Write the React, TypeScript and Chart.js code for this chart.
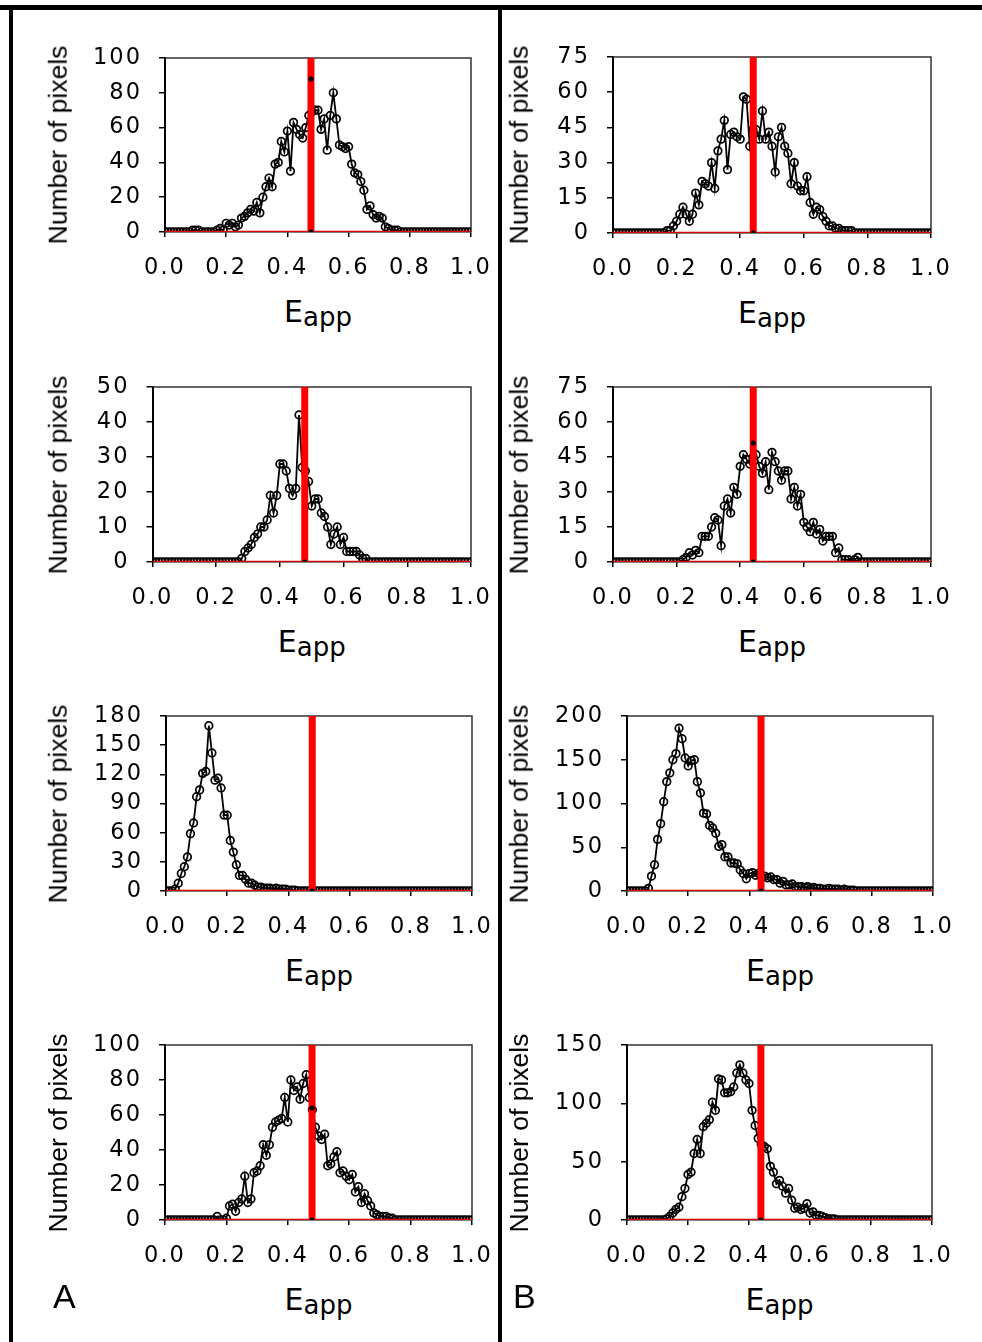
import React, { useEffect, useRef } from "react";
import { Chart, registerables } from "chart.js";

Chart.register(...registerables);

// ---------- DATA ----------
const E = [
  0, 0.01, 0.02, 0.03, 0.04, 0.05, 0.06, 0.07, 0.08, 0.09,
  0.1, 0.11, 0.12, 0.13, 0.14, 0.15, 0.16, 0.17, 0.18, 0.19,
  0.2, 0.21, 0.22, 0.23, 0.24, 0.25, 0.26, 0.27, 0.28, 0.29,
  0.3, 0.31, 0.32, 0.33, 0.34, 0.35, 0.36, 0.37, 0.38, 0.39,
  0.4, 0.41, 0.42, 0.43, 0.44, 0.45, 0.46, 0.47, 0.48, 0.49,
  0.5, 0.51, 0.52, 0.53, 0.54, 0.55, 0.56, 0.57, 0.58, 0.59,
  0.6, 0.61, 0.62, 0.63, 0.64, 0.65, 0.66, 0.67, 0.68, 0.69,
  0.7, 0.71, 0.72, 0.73, 0.74, 0.75, 0.76, 0.77, 0.78, 0.79,
  0.8, 0.81, 0.82, 0.83, 0.84, 0.85, 0.86, 0.87, 0.88, 0.89,
  0.9, 0.91, 0.92, 0.93, 0.94, 0.95, 0.96, 0.97, 0.98, 0.99,
  1.0,
];

const A1 = [
  0, 0, 0, 0, 0, 0, 0, 0, 0, 1,
  1, 1, 0, 0, 0, 0, 0, 1, 2, 1,
  5, 4, 5, 3, 4, 8, 9, 11, 13, 12,
  17, 11, 20, 26, 31, 26, 39, 40, 52, 46,
  58, 35, 63, 59, 56, 54, 60, 67, 69, 70,
  70, 59, 65, 47, 67, 80, 65, 50, 49, 48,
  49, 39, 34, 33, 29, 24, 13, 15, 10, 8,
  9, 8, 3, 2, 1, 1, 1, 0, 0, 0,
  0, 0, 0, 0, 0, 0, 0, 0, 0, 0,
  0, 0, 0, 0, 0, 0, 0, 0, 0, 0,
  0,
];

const B1 = [
  0, 0, 0, 0, 0, 0, 0, 0, 0, 0,
  0, 0, 0, 0, 0, 0, 0, 1, 1, 3,
  5, 8, 11, 8, 5, 8, 17, 12, 22, 21,
  20, 30, 19, 35, 40, 48, 27, 42, 43, 41,
  40, 58, 57, 37, 44, 44, 40, 52, 40, 43,
  37, 26, 41, 45, 37, 34, 21, 30, 20, 18,
  18, 24, 13, 8, 11, 10, 7, 5, 3, 3,
  2, 2, 1, 1, 1, 1, 0, 0, 0, 0,
  0, 0, 0, 0, 0, 0, 0, 0, 0, 0,
  0, 0, 0, 0, 0, 0, 0, 0, 0, 0,
  0,
];

const A2 = [
  0, 0, 0, 0, 0, 0, 0, 0, 0, 0,
  0, 0, 0, 0, 0, 0, 0, 0, 0, 0,
  0, 0, 0, 0, 0, 0, 0, 0, 1, 3,
  4, 5, 7, 8, 10, 10, 12, 19, 14, 19,
  28, 28, 26, 21, 19, 21, 42, 27, 26, 23,
  16, 18, 18, 14, 13, 10, 5, 8, 10, 5,
  7, 3, 3, 3, 3, 2, 1, 1, 0, 0,
  0, 0, 0, 0, 0, 0, 0, 0, 0, 0,
  0, 0, 0, 0, 0, 0, 0, 0, 0, 0,
  0, 0, 0, 0, 0, 0, 0, 0, 0, 0,
  0,
];

const B2 = [
  0, 0, 0, 0, 0, 0, 0, 0, 0, 0,
  0, 0, 0, 0, 0, 0, 0, 0, 0, 0,
  0, 0, 1, 2, 4, 3, 5, 4, 11, 11,
  11, 15, 19, 18, 7, 24, 27, 21, 32, 29,
  41, 46, 44, 42, 45, 46, 41, 38, 43, 31,
  47, 43, 39, 35, 39, 39, 27, 32, 24, 29,
  17, 15, 13, 17, 12, 14, 9, 11, 11, 11,
  4, 6, 1, 1, 1, 0, 1, 2, 0, 0,
  0, 0, 0, 0, 0, 0, 0, 0, 0, 0,
  0, 0, 0, 0, 0, 0, 0, 0, 0, 0,
  0,
];

const A3 = [
  0, 0, 0, 2, 8, 18, 25, 35, 59, 70,
  97, 104, 121, 123, 170, 142, 114, 116, 106, 78,
  78, 52, 40, 27, 16, 16, 12, 8, 8, 6,
  4, 4, 3, 3, 3, 2, 3, 2, 2, 2,
  1, 1, 1, 0, 0, 0, 0, 0, 0, 0,
  0, 0, 0, 0, 0, 0, 0, 0, 0, 0,
  0, 0, 0, 0, 0, 0, 0, 0, 0, 0,
  0, 0, 0, 0, 0, 0, 0, 0, 0, 0,
  0, 0, 0, 0, 0, 0, 0, 0, 0, 0,
  0, 0, 0, 0, 0, 0, 0, 0, 0, 0,
  0,
];

const B3 = [
  0, 0, 0, 0, 0, 0, 0, 3, 17, 30,
  59, 77, 102, 125, 135, 150, 157, 186, 174, 152,
  143, 149, 150, 125, 112, 89, 88, 75, 72, 66,
  51, 53, 39, 39, 32, 32, 31, 24, 20, 14,
  20, 21, 18, 20, 16, 17, 15, 16, 13, 13,
  9, 11, 7, 7, 8, 5, 5, 5, 4, 5,
  3, 4, 3, 3, 2, 2, 3, 2, 2, 2,
  1, 2, 1, 1, 1, 0, 0, 0, 0, 0,
  0, 0, 0, 0, 0, 0, 0, 0, 0, 0,
  0, 0, 0, 0, 0, 0, 0, 0, 0, 0,
  0,
];

const A4 = [
  0, 0, 0, 0, 0, 0, 0, 0, 0, 0,
  0, 0, 0, 0, 0, 0, 0, 2, 0, 0,
  1, 8, 9, 5, 10, 12, 25, 10, 12, 27,
  28, 31, 43, 37, 43, 53, 56, 57, 58, 70,
  56, 80, 74, 76, 69, 78, 83, 70, 63, 53,
  48, 46, 49, 31, 32, 36, 39, 27, 28, 25,
  23, 26, 16, 19, 10, 15, 11, 8, 4, 3,
  2, 2, 2, 1, 1, 0, 0, 0, 0, 0,
  0, 0, 0, 0, 0, 0, 0, 0, 0, 0,
  0, 0, 0, 0, 0, 0, 0, 0, 0, 0,
  0,
];

const B4 = [
  0, 0, 0, 0, 0, 0, 0, 0, 0, 0,
  0, 0, 0, 1, 3, 6, 9, 11, 20, 27,
  39, 41, 57, 69, 57, 80, 83, 86, 101, 94,
  121, 120, 109, 109, 110, 114, 126, 133, 126, 120,
  117, 94, 81, 70, 65, 63, 61, 46, 41, 31,
  34, 29, 23, 27, 17, 10, 11, 9, 10, 14,
  6, 7, 4, 4, 3, 2, 1, 1, 1, 0,
  0, 0, 0, 0, 0, 0, 0, 0, 0, 0,
  0, 0, 0, 0, 0, 0, 0, 0, 0, 0,
  0, 0, 0, 0, 0, 0, 0, 0, 0, 0,
  0,
];

const SERIES = [A1, B1, A2, B2, A3, B3, A4, B4];
const Y_MAX = [100, 75, 50, 75, 180, 200, 100, 150];
const Y_STEP = [20, 15, 10, 15, 30, 50, 20, 50];
const RED_E = [0.477, 0.441, 0.478, 0.441, 0.478, 0.438, 0.479, 0.439];
const DOT_Y: (number | null)[] = [88, null, null, 51, null, null, 64, null];
const X_TICK_STEP = 0.2;
const Y_TITLE = "Number of pixels";
const X_TITLE_MAIN = "E";
const X_TITLE_SUB = "app";
const PANEL_LETTERS = ["A", "B"];

// ---------- LAYOUT (pixel positions of plot areas) ----------
const LAYOUT = [
  { col: 0, L: 165, R: 471, T: 58, B: 232 },
  { col: 1, L: 613, R: 931, T: 57, B: 233 },
  { col: 0, L: 152.5, R: 471, T: 387, B: 562 },
  { col: 1, L: 613, R: 931, T: 387, B: 562 },
  { col: 0, L: 166, R: 472, T: 716, B: 891 },
  { col: 1, L: 627, R: 933, T: 716, B: 891 },
  { col: 0, L: 165, R: 472, T: 1045, B: 1220 },
  { col: 1, L: 627, R: 932, T: 1045, B: 1220 },
];
const COL_CANVAS = [
  { l: 20, r: 492 },
  { l: 505, r: 962 },
];
const TITLE_CX = [57.7, 519.2];

const TICK_FONT = { family: "'DejaVu Sans', sans-serif", size: 22.5 };

const framePlugin = {
  id: "frame",
  beforeDraw(chart: any) {
    (chart.ctx as any).letterSpacing = "2px";
  },
  beforeDatasetsDraw(chart: any) {
    const { ctx, chartArea: a } = chart;
    ctx.save();
    ctx.strokeStyle = "#333";
    ctx.lineWidth = 1.5;
    ctx.beginPath();
    ctx.moveTo(a.left, a.top);
    ctx.lineTo(a.right, a.top);
    ctx.lineTo(a.right, a.bottom);
    ctx.stroke();
    ctx.restore();
  },
};

function zeroPads(s: any) {
  s.paddingTop = 0;
  s.paddingBottom = 0;
  s.paddingLeft = 0;
  s.paddingRight = 0;
}

function Panel({ i }: { i: number }) {
  const ref = useRef<HTMLCanvasElement>(null);
  const L = LAYOUT[i];
  const cl = COL_CANVAS[L.col].l;
  const cr = COL_CANVAS[L.col].r;
  const ct = L.T - 14;
  const cb = L.B + 52;
  const cw = cr - cl;
  const ch = cb - ct;

  useEffect(() => {
    const canvas = ref.current!;
    const series = SERIES[i];
    const red = RED_E[i];
    const dot = DOT_Y[i];
    const markers = dot == null ? [{ x: red, y: 0 }] : [{ x: red, y: 0 }, { x: red, y: dot }];
    const chart = new Chart(canvas, {
      type: "line",
      data: {
        datasets: [
          {
            data: markers,
            showLine: false,
            pointRadius: 2.6,
            pointBackgroundColor: "#000",
            pointBorderColor: "#000",
            pointBorderWidth: 0,
          },
          {
            data: [
              { x: red, y: 0 },
              { x: red, y: Y_MAX[i] },
            ],
            borderColor: "#ff0000",
            borderWidth: 7,
            pointRadius: 0,
            borderCapStyle: "butt",
          },
          {
            data: [
              { x: 0, y: 0 },
              { x: 1, y: 0 },
            ],
            borderColor: "#e00000",
            borderWidth: 2.5,
            pointRadius: 0,
          },
          {
            data: E.map((x, k) => ({ x, y: series[k] })),
            borderColor: "#000",
            borderWidth: 1.8,
            pointRadius: 3.8,
            pointBorderWidth: 1.7,
            pointBorderColor: "#000",
            pointBackgroundColor: "rgba(255,255,255,0)",
            tension: 0,
          },
        ] as any,
      },
      options: {
        responsive: false,
        animation: false,
        events: [],
        layout: { padding: { left: 0, right: cr - L.R, top: L.T - ct, bottom: 0 } },
        plugins: { legend: { display: false }, tooltip: { enabled: false } },
        scales: {
          x: {
            type: "linear",
            min: 0,
            max: 1,
            afterFit: (s: any) => {
              s.height = cb - L.B;
              zeroPads(s);
            },
            ticks: {
              stepSize: X_TICK_STEP,
              callback: (v: any) => Number(v).toFixed(1),
              color: "#000",
              font: TICK_FONT,
              padding: 17.5,
              maxRotation: 0,
              autoSkip: false,
            },
            grid: {
              display: true,
              drawOnChartArea: false,
              drawTicks: true,
              tickLength: 5,
              color: "#000",
              lineWidth: 1.5,
            },
            border: { display: true, color: "#000", width: 1.5 },
          },
          y: {
            type: "linear",
            min: 0,
            max: Y_MAX[i],
            afterFit: (s: any) => {
              s.width = L.L - cl;
              zeroPads(s);
            },
            ticks: {
              stepSize: Y_STEP[i],
              color: "#000",
              font: TICK_FONT,
              padding: 17,
              autoSkip: false,
            },
            grid: {
              display: true,
              drawOnChartArea: false,
              drawTicks: true,
              tickLength: 6,
              color: "#000",
              lineWidth: 1.5,
            },
            border: { display: true, color: "#000", width: 2 },
          },
        },
      } as any,
      plugins: [framePlugin as any],
    });
    return () => chart.destroy();
  }, []);

  return (
    <>
      <canvas
        ref={ref}
        width={cw}
        height={ch}
        style={{ position: "absolute", left: cl, top: ct, width: cw, height: ch }}
      />
      <div
        style={{
          position: "absolute",
          left: TITLE_CX[L.col],
          top: (L.T + L.B) / 2,
          transform: "translate(-50%, -50%) rotate(-90deg)",
          whiteSpace: "nowrap",
          fontFamily: "'Liberation Sans', Arial, sans-serif",
          fontSize: 26.5,
          lineHeight: 1,
          color: "#000",
        }}
      >
        {Y_TITLE}
      </div>
      <div
        style={{
          position: "absolute",
          left: (L.L + L.R) / 2,
          top: L.B + 64.5,
          transform: "translateX(-50%)",
          whiteSpace: "nowrap",
          fontFamily: "'DejaVu Sans', sans-serif",
          fontSize: 30,
          lineHeight: 1,
          color: "#000",
        }}
      >
        {X_TITLE_MAIN}
        <span style={{ fontSize: 26, position: "relative", top: 4 }}>{X_TITLE_SUB}</span>
      </div>
    </>
  );
}

export default function App() {
  return (
    <div
      style={{
        position: "absolute",
        left: 0,
        top: 0,
        width: 982,
        height: 1342,
        background: "#fff",
        overflow: "hidden",
      }}
    >
      <div style={{ position: "absolute", left: 0, top: 5, width: 982, height: 5, background: "#000" }} />
      <div style={{ position: "absolute", left: 9, top: 8, width: 4, height: 1334, background: "#000" }} />
      <div style={{ position: "absolute", left: 498, top: 8, width: 4, height: 1334, background: "#000" }} />
      {LAYOUT.map((_, i) => (
        <Panel key={i} i={i} />
      ))}
      <div
        style={{
          position: "absolute",
          left: 53,
          top: 1279,
          fontFamily: "'Liberation Sans', Arial, sans-serif",
          fontSize: 34,
          lineHeight: 1,
          color: "#000",
        }}
      >
        {PANEL_LETTERS[0]}
      </div>
      <div
        style={{
          position: "absolute",
          left: 513,
          top: 1279,
          fontFamily: "'Liberation Sans', Arial, sans-serif",
          fontSize: 34,
          lineHeight: 1,
          color: "#000",
        }}
      >
        {PANEL_LETTERS[1]}
      </div>
    </div>
  );
}
